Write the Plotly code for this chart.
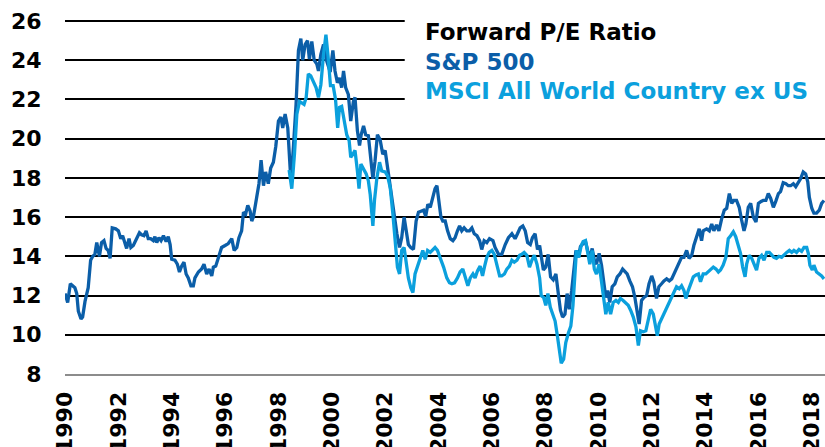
import plotly.graph_objects as go

# ---- data ----
sp_years = [
    1990.00, 1990.10, 1990.20, 1990.37, 1990.44, 1990.50, 1990.60, 1990.66, 1990.75, 1990.87,
    1990.96, 1991.04, 1991.12, 1991.19, 1991.29, 1991.37, 1991.46, 1991.54, 1991.62, 1991.69,
    1991.77, 1991.90, 1992.00, 1992.09, 1992.16, 1992.25, 1992.31, 1992.40, 1992.47, 1992.56,
    1992.66, 1992.79, 1992.87, 1992.96, 1993.04, 1993.12, 1993.21, 1993.31, 1993.37, 1993.44,
    1993.52, 1993.60, 1993.69, 1993.79, 1993.87, 1993.94, 1994.00, 1994.12, 1994.21, 1994.29,
    1994.37, 1994.46, 1994.54, 1994.62, 1994.72, 1994.81, 1994.87, 1995.00, 1995.12, 1995.21,
    1995.31, 1995.40, 1995.50, 1995.56, 1995.65, 1995.75, 1995.87, 1996.00, 1996.12, 1996.25,
    1996.34, 1996.44, 1996.52, 1996.62, 1996.69, 1996.77, 1996.85, 1996.94, 1997.00, 1997.06,
    1997.19, 1997.27, 1997.35, 1997.44, 1997.52, 1997.62, 1997.71, 1997.81, 1997.90, 1998.00,
    1998.09, 1998.16, 1998.25, 1998.35, 1998.44, 1998.48, 1998.56, 1998.66, 1998.75, 1998.84,
    1998.91, 1999.00, 1999.09, 1999.16, 1999.25, 1999.34, 1999.44, 1999.50, 1999.59, 1999.69,
    1999.81, 1999.94, 2000.04, 2000.12, 2000.21, 2000.29, 2000.37, 2000.44, 2000.52, 2000.62,
    2000.71, 2000.81, 2000.87, 2000.96, 2001.04, 2001.10, 2001.19, 2001.27, 2001.37, 2001.46,
    2001.54, 2001.62, 2001.71, 2001.81, 2001.91, 2002.00, 2002.09, 2002.19, 2002.31, 2002.44,
    2002.54, 2002.62, 2002.71, 2002.79, 2002.87, 2002.96, 2003.06, 2003.16, 2003.25, 2003.34,
    2003.44, 2003.52, 2003.60, 2003.69, 2003.79, 2003.87, 2003.94, 2004.00, 2004.09, 2004.16,
    2004.25, 2004.34, 2004.44, 2004.54, 2004.62, 2004.71, 2004.79, 2004.87, 2004.96, 2005.06,
    2005.16, 2005.25, 2005.34, 2005.44, 2005.54, 2005.62, 2005.71, 2005.81, 2005.91, 2006.04,
    2006.12, 2006.25, 2006.37, 2006.50, 2006.62, 2006.75, 2006.87, 2006.96, 2007.06, 2007.16,
    2007.25, 2007.34, 2007.44, 2007.52, 2007.62, 2007.71, 2007.79, 2007.93, 2008.02, 2008.11,
    2008.20, 2008.30, 2008.40, 2008.49, 2008.57, 2008.65, 2008.74, 2008.82, 2008.90, 2008.99,
    2009.05, 2009.15, 2009.24, 2009.32, 2009.42, 2009.51, 2009.59, 2009.67, 2009.76, 2009.84,
    2009.92, 2010.02, 2010.11, 2010.20, 2010.27, 2010.34, 2010.42, 2010.51, 2010.61, 2010.70,
    2010.80, 2010.90, 2010.99, 2011.07, 2011.17, 2011.27, 2011.36, 2011.45, 2011.52, 2011.61,
    2011.70, 2011.80, 2011.89, 2011.99, 2012.07, 2012.17, 2012.26, 2012.36, 2012.45, 2012.55,
    2012.65, 2012.74, 2012.82, 2012.92, 2013.02, 2013.11, 2013.20, 2013.30, 2013.39, 2013.49,
    2013.57, 2013.67, 2013.77, 2013.86, 2013.92, 2014.05, 2014.15, 2014.24, 2014.32, 2014.42,
    2014.51, 2014.61, 2014.71, 2014.80, 2014.90, 2014.99, 2015.07, 2015.17, 2015.27, 2015.36,
    2015.45, 2015.52, 2015.61, 2015.70, 2015.80, 2015.90, 2015.99, 2016.09, 2016.17, 2016.27,
    2016.36, 2016.45, 2016.55, 2016.64, 2016.74, 2016.82, 2016.92, 2017.02, 2017.11, 2017.20,
    2017.30, 2017.39, 2017.49, 2017.57, 2017.67, 2017.76, 2017.84, 2017.90, 2017.99, 2018.07,
    2018.17, 2018.27, 2018.36, 2018.45,
]
sp_pe = [
    12.1, 11.65, 12.6, 12.4, 12.1, 11.2, 10.8, 10.9, 11.7, 12.4,
    13.8, 14.0, 14.1, 14.7, 14.0, 14.7, 14.8, 14.4, 14.3, 13.9,
    15.45, 15.4, 15.3, 14.9, 15.05, 14.6, 14.4, 14.9, 14.45, 14.55,
    14.8, 15.2, 15.1, 15.05, 15.3, 14.9, 14.9, 14.8, 15.0, 14.7,
    14.95, 14.8, 15.05, 14.75, 15.0, 14.6, 13.85, 13.8, 13.6, 13.2,
    13.5, 13.7, 13.1, 12.9, 12.5, 12.5, 12.9, 13.2, 13.35, 13.6,
    13.1, 13.35, 13.0, 13.45, 13.5, 13.95, 14.45, 14.55, 14.65, 14.9,
    14.3, 14.45, 14.95, 15.3, 16.25, 16.15, 16.6, 16.3, 15.8, 16.0,
    17.0, 17.7, 18.9, 17.6, 18.3, 17.7, 18.5, 18.8, 19.6, 20.9,
    21.1, 20.55, 21.25, 20.55, 18.45, 18.0, 19.55, 21.75, 24.5, 25.1,
    24.0, 24.8, 25.0, 24.05, 24.95, 24.0, 23.8, 23.45, 24.3, 24.8,
    23.95, 23.4, 24.5, 23.45, 22.85, 23.1, 22.6, 23.45, 22.6, 22.25,
    20.9, 21.9, 22.1, 20.4, 19.65, 20.2, 20.65, 20.2, 20.15, 18.85,
    17.95, 18.85, 20.2, 19.95, 19.2, 19.4, 18.5, 17.7, 16.5, 15.15,
    14.45, 14.95, 16.0, 15.15, 14.6, 14.45, 14.35, 15.8, 16.25, 16.3,
    16.35, 16.05, 16.65, 16.5, 17.0, 17.45, 17.6, 17.0, 16.0, 15.8,
    15.8, 15.3, 14.9, 14.8, 14.95, 15.3, 15.55, 15.3, 15.45, 15.3,
    15.3, 15.45, 15.15, 15.05, 14.8, 14.35, 14.8, 14.7, 14.9, 14.8,
    14.45, 14.1, 14.1, 14.6, 14.95, 15.15, 14.9, 15.15, 15.45, 15.55,
    15.3, 14.7, 14.6, 14.95, 15.15, 14.35, 14.55, 13.3, 13.45, 14.1,
    12.95, 12.8, 13.1, 12.1, 11.25, 10.9, 11.05, 12.1, 11.3, 12.25,
    13.1, 14.3, 13.95, 14.5, 14.65, 14.75, 14.3, 13.9, 14.4, 13.8,
    13.6, 14.15, 13.55, 12.7, 11.9, 12.25, 11.65, 12.45, 12.6, 12.95,
    13.1, 13.35, 13.2, 13.1, 12.75, 12.45, 11.9, 11.25, 10.55, 11.75,
    11.9, 12.0, 12.6, 13.0, 12.7, 11.85, 12.45, 12.6, 12.75, 12.85,
    12.75, 12.85, 13.1, 13.35, 13.7, 13.95, 13.95, 14.3, 13.9, 14.05,
    14.55, 15.05, 15.4, 14.8, 15.3, 15.4, 15.3, 15.65, 15.3, 15.6,
    15.3, 15.9, 16.35, 16.45, 17.2, 16.7, 16.85, 16.85, 16.5, 15.85,
    15.3, 15.65, 16.5, 16.7, 16.0, 15.75, 16.7, 16.8, 16.85, 16.85,
    17.2, 16.95, 16.5, 16.8, 17.2, 17.3, 17.75, 17.7, 17.6, 17.6,
    17.7, 17.55, 17.8, 17.95, 18.3, 18.2, 17.8, 17.0, 16.45, 16.2,
    16.2, 16.35, 16.7, 16.85,
]

msci_years = [
    1998.40, 1998.50, 1998.60, 1998.69, 1998.79, 1998.87, 1998.96, 1999.04, 1999.12,
    1999.21, 1999.31, 1999.41, 1999.50, 1999.59, 1999.69, 1999.78, 1999.86, 1999.95, 2000.05,
    2000.14, 2000.22, 2000.29, 2000.37, 2000.46, 2000.56, 2000.65, 2000.71, 2000.79, 2000.87,
    2000.96, 2001.02, 2001.09, 2001.19, 2001.29, 2001.37, 2001.44, 2001.54, 2001.60, 2001.69,
    2001.79, 2001.87, 2002.00, 2002.09, 2002.19, 2002.29, 2002.37, 2002.46, 2002.54, 2002.62,
    2002.71, 2002.79, 2002.87, 2002.96, 2003.04, 2003.12, 2003.21, 2003.31, 2003.41, 2003.50,
    2003.59, 2003.69, 2003.79, 2003.87, 2003.96, 2004.06, 2004.19, 2004.31, 2004.41, 2004.50,
    2004.60, 2004.71, 2004.81, 2004.91, 2005.00, 2005.10, 2005.19, 2005.29, 2005.37, 2005.46,
    2005.56, 2005.65, 2005.72, 2005.81, 2005.90, 2006.00, 2006.09, 2006.19, 2006.29, 2006.37,
    2006.47, 2006.56, 2006.66, 2006.75, 2006.84, 2006.94, 2007.04, 2007.12, 2007.21, 2007.31,
    2007.41, 2007.50, 2007.59, 2007.69, 2007.79, 2007.85, 2007.94, 2008.02, 2008.10, 2008.19,
    2008.29, 2008.37, 2008.46, 2008.54, 2008.60, 2008.69, 2008.77, 2008.87, 2008.96, 2009.04,
    2009.10, 2009.17, 2009.26, 2009.35, 2009.42, 2009.51, 2009.59, 2009.67, 2009.76, 2009.84,
    2009.92, 2010.02, 2010.11, 2010.20, 2010.27, 2010.36, 2010.45, 2010.55, 2010.65, 2010.74,
    2010.82, 2010.92, 2011.02, 2011.11, 2011.20, 2011.30, 2011.40, 2011.49, 2011.57, 2011.67,
    2011.77, 2011.86, 2011.95, 2012.05, 2012.11, 2012.20, 2012.27, 2012.36, 2012.45, 2012.55,
    2012.65, 2012.74, 2012.82, 2012.92, 2013.02, 2013.11, 2013.20, 2013.27, 2013.36, 2013.45,
    2013.55, 2013.65, 2013.74, 2013.82, 2013.92, 2014.02, 2014.11, 2014.20, 2014.30, 2014.40,
    2014.49, 2014.57, 2014.67, 2014.77, 2014.86, 2014.95, 2015.05, 2015.14, 2015.24, 2015.32,
    2015.40, 2015.49, 2015.55, 2015.64, 2015.74, 2015.82, 2015.92, 2016.01, 2016.11, 2016.20,
    2016.30, 2016.40, 2016.49, 2016.57, 2016.67, 2016.76, 2016.86, 2016.96, 2017.05, 2017.15,
    2017.24, 2017.32, 2017.42, 2017.51, 2017.61, 2017.70, 2017.80, 2017.86, 2017.92, 2018.01,
    2018.07, 2018.17, 2018.27, 2018.36, 2018.45,
]
msci_pe = [
    18.4, 17.45, 19.2, 21.25, 21.9, 21.85, 21.75, 22.1, 23.3,
    23.2, 22.9, 22.6, 22.1, 22.75, 24.3, 25.3, 24.2, 22.7, 22.7,
    22.0, 20.55, 21.6, 21.65, 20.9, 20.2, 19.9, 19.05, 19.2, 19.4,
    18.35, 17.45, 18.7, 18.45, 18.2, 17.85, 17.15, 15.55, 16.85, 18.0,
    18.8, 18.35, 18.3, 18.1, 17.5, 16.15, 14.8, 13.45, 13.1, 14.3,
    14.45, 13.6, 12.9, 12.4, 12.15, 13.1, 13.5, 13.85, 14.3, 13.85,
    14.3, 14.2, 14.35, 14.45, 14.3, 13.95, 13.45, 12.9, 12.65, 12.6,
    12.65, 12.9, 13.2, 13.35, 12.9, 12.5, 12.9, 13.1, 12.9, 13.25,
    13.5, 13.0, 13.45, 13.95, 14.2, 14.3, 14.1, 13.45, 13.0, 13.0,
    13.1, 13.35, 13.5, 13.8, 13.7, 13.8, 14.05, 14.1, 14.2, 14.05,
    13.45, 13.8, 14.05, 13.6, 12.9, 12.0, 11.9, 11.5, 12.1, 11.4,
    11.05, 10.7, 9.9, 9.0, 8.55, 8.75, 9.6, 10.1, 10.45, 11.5,
    13.1, 14.3, 13.95, 14.55, 14.75, 14.8, 14.2, 13.6, 14.3, 13.35,
    13.1, 13.6, 12.7, 11.9, 11.05, 11.65, 11.05, 11.65, 11.75, 11.65,
    11.85, 11.75, 11.6, 11.5, 11.25, 10.9, 10.4, 9.45, 10.2, 10.15,
    10.2, 10.8, 11.3, 11.05, 10.55, 9.95, 10.55, 10.8, 11.05, 11.4,
    11.65, 11.9, 12.15, 12.45, 12.35, 12.5, 12.25, 11.85, 12.25, 12.6,
    12.95, 13.05, 13.1, 12.7, 13.1, 13.1, 13.2, 13.3, 13.45, 13.35,
    13.2, 13.3, 13.55, 13.95, 14.9, 15.05, 15.25, 15.0, 14.5, 14.15,
    13.45, 12.95, 13.6, 14.05, 13.9, 13.6, 13.3, 13.9, 14.05, 13.8,
    14.2, 14.2, 14.05, 13.95, 13.9, 14.0, 13.95, 14.1, 14.2, 14.3,
    14.2, 14.3, 14.2, 14.35, 14.25, 14.45, 14.45, 14.15, 13.55, 13.3,
    13.55, 13.2, 13.1, 13.0, 12.85,
]

year_ticks = list(range(1990, 2019, 2))
pe_ticks = list(range(8, 27, 2))

legend_title = "Forward P/E Ratio"
sp_name = "S&P 500"
msci_name = "MSCI All World Country ex US"

SP_COLOR = "#0b5ea8"
MSCI_COLOR = "#0ba0dd"
FONT = "DejaVu Sans"

fig = go.Figure()
fig.add_trace(go.Scatter(x=sp_years, y=sp_pe, mode="lines", name=sp_name,
                         line=dict(color=SP_COLOR, width=3.3), hoverinfo="skip"))
fig.add_trace(go.Scatter(x=msci_years, y=msci_pe, mode="lines", name=msci_name,
                         line=dict(color=MSCI_COLOR, width=3.3), hoverinfo="skip"))

# white box behind the legend text that hides the top grid lines
fig.add_shape(type="rect", xref="paper", yref="paper", x0=0.447, x1=1.0, y0=0.72, y1=1.05,
              fillcolor="white", line=dict(width=0), layer="above")

LEG_X = 0.471
fig.add_annotation(text="<b>%s</b>" % legend_title, xref="paper", yref="paper",
                   x=LEG_X, y=0.962, xanchor="left", yanchor="middle", showarrow=False,
                   font=dict(family=FONT, size=23, color="black"))
fig.add_annotation(text="<b>%s</b>" % sp_name, xref="paper", yref="paper",
                   x=LEG_X, y=0.880, xanchor="left", yanchor="middle", showarrow=False,
                   font=dict(family=FONT, size=23, color=SP_COLOR))
fig.add_annotation(text="<b>%s</b>" % msci_name, xref="paper", yref="paper",
                   x=LEG_X, y=0.798, xanchor="left", yanchor="middle", showarrow=False,
                   font=dict(family=FONT, size=23, color=MSCI_COLOR))

fig.update_layout(
    template="none",
    width=825, height=447,
    margin=dict(l=65, r=0, t=19, b=73, autoexpand=False),
    paper_bgcolor="white", plot_bgcolor="white",
    showlegend=False, hovermode=False,
    font=dict(family=FONT, size=22, color="black"),
    xaxis=dict(range=[1990, 2018.486], tickvals=year_ticks,
               ticktext=["<b>%d</b>" % y for y in year_ticks],
               tickangle=-90, showgrid=False, zeroline=False, automargin=False,
               showline=True, linecolor="#8c8c8c", linewidth=2, mirror=False,
               ticks="outside", ticklen=7, tickcolor="rgba(0,0,0,0)",
               tickfont=dict(family=FONT, size=22, color="black")),
    yaxis=dict(range=[8, 26.1], tickvals=pe_ticks,
               ticktext=["<b>%d</b>" % v for v in pe_ticks],
               showgrid=True, gridcolor="black", gridwidth=2, zeroline=False,
               showline=False, automargin=False,
               ticks="outside", ticklen=18, tickcolor="rgba(0,0,0,0)",
               tickfont=dict(family=FONT, size=22, color="black")),
)

fig.write_html("out.html", config={"displayModeBar": False, "staticPlot": True},
               post_script="document.body.style.margin='0';document.body.style.overflow='hidden';")
